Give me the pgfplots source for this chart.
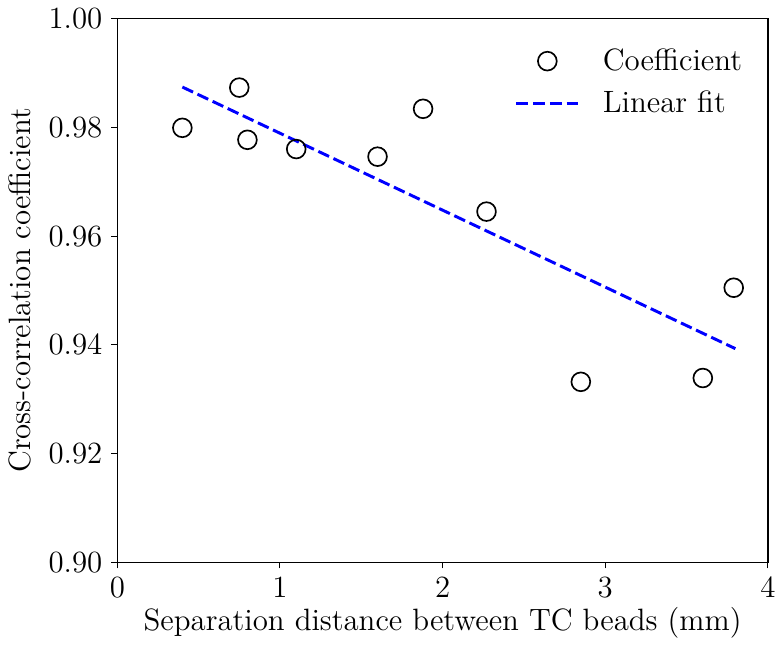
\documentclass[border=0pt]{standalone}
\usepackage{pgfplots}
\pgfplotsset{compat=1.18}
\begin{document}
\begin{tikzpicture}
\begin{axis}[
  scale only axis,
  width=253pt, height=211.5pt,
  xmin=0, xmax=4, ymin=0.90, ymax=1.00,
  xtick={0,1,2,3,4},
  ytick={0.90,0.92,0.94,0.96,0.98,1.00},
  yticklabel style={/pgf/number format/fixed, /pgf/number format/fixed zerofill, /pgf/number format/precision=2},
  tick align=outside,
  xtick pos=bottom, ytick pos=left,
  major tick length=2.3pt,
  tick style={black, line width=0.4pt},
  axis line style={line width=0.5pt},
  tick label style={font=\large},
  label style={font=\large},
  xlabel={Separation distance between TC beads (mm)},
  xlabel style={yshift=3pt},
  ylabel={Cross-correlation coefficient},
  legend style={draw=none, fill=none, at={(0.981,0.965)}, anchor=north east, font=\large, row sep=2.5pt,
    /tikz/every odd column/.append style={column sep=7pt}},
  legend cell align=left,
  legend image code/.code={\draw[mark repeat=2,mark phase=2,#1] plot coordinates {(0pt,0pt) (12pt,0pt) (24pt,0pt)};},
  clip=false,
]
\addplot[only marks, mark=o, mark size=3.65pt, mark options={line width=0.65pt, black}] coordinates {
(0.40,0.9799) (0.75,0.9873) (0.80,0.9777) (1.10,0.9760) (1.60,0.9746)
(1.88,0.9834) (2.27,0.9645) (2.85,0.9332) (3.60,0.9339) (3.79,0.9505)
};
\addlegendentry{Coefficient}
\addplot[blue, line width=1.15pt, dash pattern=on 4.6pt off 1.9pt] coordinates {
(0.40,0.9874) (3.80,0.9393)
};
\addlegendentry{Linear fit}
\end{axis}
\path (current axis.north east) ++(4pt,0) coordinate (r);
\path (r) rectangle (r);
\end{tikzpicture}
\end{document}
